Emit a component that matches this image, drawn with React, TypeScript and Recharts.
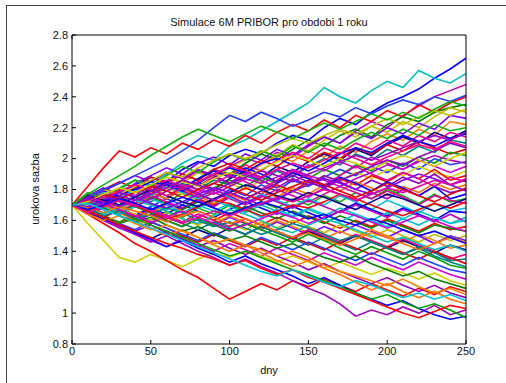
import { LineChart, Line, XAxis, YAxis } from 'recharts';

// days sampled every 10 days
const days = [0, 10, 20, 30, 40, 50, 60, 70, 80, 90, 100, 110, 120, 130, 140, 150, 160, 170, 180, 190, 200, 210, 220, 230, 240, 250];
const xTicks = [0, 50, 100, 150, 200, 250];
const yTicks = [0.8, 1, 1.2, 1.4, 1.6, 1.8, 2, 2.2, 2.4, 2.6, 2.8];

// simulated 6M PRIBOR paths (roughly)
const s01 = [1.70, 1.74, 1.79, 1.76, 1.83, 1.88, 1.85, 1.93, 1.98, 1.95, 2.02, 2.06, 2.03, 2.10, 2.15, 2.12, 2.20, 2.26, 2.22, 2.30, 2.36, 2.40, 2.45, 2.52, 2.58, 2.65];
const s02 = [1.70, 1.75, 1.72, 1.80, 1.86, 1.83, 1.90, 1.97, 2.02, 1.99, 2.08, 2.12, 2.18, 2.24, 2.30, 2.36, 2.46, 2.40, 2.36, 2.44, 2.50, 2.46, 2.57, 2.52, 2.49, 2.55];
const s03 = [1.70, 1.66, 1.73, 1.78, 1.75, 1.82, 1.79, 1.86, 1.92, 1.88, 1.95, 2.00, 1.97, 2.04, 2.01, 2.08, 2.14, 2.10, 2.18, 2.24, 2.20, 2.28, 2.34, 2.40, 2.44, 2.48];
const s04 = [1.70, 1.82, 1.94, 2.05, 2.01, 2.07, 2.03, 2.10, 2.06, 2.12, 2.08, 2.15, 2.10, 2.17, 2.22, 2.18, 2.25, 2.20, 2.28, 2.24, 2.31, 2.27, 2.35, 2.30, 2.36, 2.40];
const s05 = [1.70, 1.73, 1.69, 1.76, 1.81, 1.78, 1.84, 1.80, 1.87, 1.93, 1.90, 1.97, 2.03, 1.99, 2.06, 2.12, 2.08, 2.15, 2.19, 2.14, 2.22, 2.27, 2.24, 2.30, 2.33, 2.35];
const s06 = [1.70, 1.67, 1.72, 1.69, 1.76, 1.82, 1.88, 1.84, 1.91, 1.87, 1.94, 1.99, 2.05, 2.02, 2.09, 2.05, 2.12, 2.18, 2.14, 2.21, 2.17, 2.24, 2.20, 2.27, 2.33, 2.30];
const s07 = [1.70, 1.76, 1.81, 1.77, 1.84, 1.89, 1.94, 1.90, 1.97, 2.01, 1.96, 2.03, 1.99, 2.06, 2.02, 2.09, 2.14, 2.10, 2.17, 2.13, 2.20, 2.16, 2.23, 2.19, 2.28, 2.26];
const s08 = [1.70, 1.72, 1.77, 1.73, 1.79, 1.75, 1.81, 1.86, 1.82, 1.89, 1.94, 1.90, 1.96, 2.02, 1.98, 2.05, 2.01, 2.08, 2.04, 2.11, 2.16, 2.12, 2.19, 2.15, 2.24, 2.22];
const s09 = [1.70, 1.65, 1.70, 1.75, 1.71, 1.78, 1.74, 1.81, 1.85, 1.80, 1.87, 1.92, 1.88, 1.95, 1.91, 1.98, 2.03, 1.99, 2.06, 2.02, 2.09, 2.14, 2.10, 2.17, 2.13, 2.18];
const s10 = [1.70, 1.74, 1.70, 1.77, 1.82, 1.79, 1.85, 1.90, 1.86, 1.93, 1.89, 1.96, 1.92, 1.99, 2.04, 2.00, 2.07, 2.03, 2.10, 2.06, 2.12, 2.08, 2.15, 2.11, 2.17, 2.14];
const s11 = [1.70, 1.68, 1.73, 1.70, 1.76, 1.72, 1.79, 1.84, 1.80, 1.86, 1.83, 1.89, 1.85, 1.92, 1.88, 1.95, 2.00, 1.96, 2.03, 1.99, 2.06, 2.02, 2.08, 2.04, 2.12, 2.10];
const s12 = [1.70, 1.75, 1.80, 1.85, 1.81, 1.88, 1.84, 1.90, 1.86, 1.93, 1.97, 1.93, 1.99, 1.95, 2.02, 1.98, 2.04, 2.00, 2.07, 2.03, 2.09, 2.05, 2.11, 2.07, 2.03, 2.06];
const s13 = [1.70, 1.71, 1.67, 1.73, 1.69, 1.75, 1.71, 1.78, 1.74, 1.81, 1.86, 1.82, 1.88, 1.84, 1.91, 1.87, 1.93, 1.89, 1.96, 1.92, 1.99, 1.95, 2.01, 1.97, 2.04, 2.02];
const s14 = [1.70, 1.66, 1.62, 1.67, 1.63, 1.69, 1.74, 1.70, 1.77, 1.73, 1.80, 1.76, 1.83, 1.79, 1.86, 1.82, 1.88, 1.93, 1.89, 1.95, 1.91, 1.97, 1.93, 2.00, 1.96, 1.98];
const s15 = [1.70, 1.77, 1.73, 1.80, 1.76, 1.83, 1.79, 1.86, 1.82, 1.88, 1.84, 1.91, 1.87, 1.93, 1.89, 1.96, 1.92, 1.98, 1.94, 2.01, 1.97, 1.93, 1.99, 1.95, 1.91, 1.95];
const s16 = [1.70, 1.73, 1.78, 1.74, 1.70, 1.76, 1.81, 1.77, 1.73, 1.79, 1.84, 1.80, 1.86, 1.82, 1.78, 1.84, 1.89, 1.85, 1.91, 1.87, 1.93, 1.89, 1.95, 1.91, 1.88, 1.92];
const s17 = [1.70, 1.65, 1.69, 1.64, 1.70, 1.66, 1.72, 1.68, 1.74, 1.70, 1.76, 1.81, 1.77, 1.83, 1.79, 1.85, 1.81, 1.87, 1.83, 1.89, 1.85, 1.91, 1.87, 1.93, 1.86, 1.89];
const s18 = [1.70, 1.74, 1.79, 1.84, 1.89, 1.85, 1.91, 1.87, 1.93, 1.89, 1.84, 1.90, 1.86, 1.81, 1.87, 1.83, 1.89, 1.85, 1.80, 1.86, 1.82, 1.88, 1.84, 1.90, 1.83, 1.86];
const s19 = [1.70, 1.68, 1.72, 1.67, 1.73, 1.78, 1.74, 1.80, 1.76, 1.71, 1.77, 1.73, 1.79, 1.75, 1.81, 1.77, 1.83, 1.79, 1.85, 1.81, 1.76, 1.82, 1.78, 1.84, 1.80, 1.83];
const s20 = [1.70, 1.72, 1.68, 1.64, 1.69, 1.65, 1.71, 1.67, 1.73, 1.69, 1.75, 1.71, 1.77, 1.73, 1.79, 1.75, 1.81, 1.77, 1.72, 1.78, 1.74, 1.80, 1.76, 1.82, 1.78, 1.80];
const s21 = [1.70, 1.76, 1.72, 1.78, 1.83, 1.79, 1.85, 1.81, 1.87, 1.92, 1.88, 1.94, 1.90, 1.85, 1.91, 1.87, 1.82, 1.88, 1.84, 1.79, 1.85, 1.81, 1.76, 1.82, 1.74, 1.77];
const s22 = [1.70, 1.67, 1.63, 1.59, 1.64, 1.60, 1.66, 1.62, 1.68, 1.64, 1.70, 1.66, 1.72, 1.68, 1.74, 1.70, 1.76, 1.72, 1.78, 1.74, 1.80, 1.76, 1.71, 1.77, 1.72, 1.74];
const s23 = [1.70, 1.74, 1.70, 1.66, 1.71, 1.76, 1.72, 1.68, 1.73, 1.78, 1.74, 1.70, 1.75, 1.80, 1.76, 1.72, 1.77, 1.82, 1.78, 1.74, 1.79, 1.75, 1.70, 1.76, 1.73, 1.71];
const s24 = [1.70, 1.73, 1.78, 1.74, 1.80, 1.76, 1.82, 1.78, 1.74, 1.80, 1.75, 1.71, 1.77, 1.73, 1.69, 1.74, 1.70, 1.76, 1.72, 1.67, 1.73, 1.69, 1.65, 1.71, 1.66, 1.68];
const s25 = [1.70, 1.66, 1.71, 1.67, 1.63, 1.68, 1.64, 1.70, 1.66, 1.62, 1.67, 1.72, 1.68, 1.64, 1.69, 1.65, 1.61, 1.66, 1.71, 1.67, 1.63, 1.68, 1.64, 1.60, 1.66, 1.65];
const s26 = [1.70, 1.69, 1.65, 1.70, 1.75, 1.71, 1.67, 1.72, 1.68, 1.73, 1.69, 1.65, 1.70, 1.66, 1.62, 1.67, 1.63, 1.68, 1.64, 1.60, 1.65, 1.61, 1.66, 1.62, 1.58, 1.62];
const s27 = [1.70, 1.75, 1.71, 1.76, 1.81, 1.77, 1.83, 1.79, 1.75, 1.80, 1.76, 1.71, 1.76, 1.72, 1.68, 1.73, 1.69, 1.65, 1.70, 1.66, 1.62, 1.67, 1.63, 1.59, 1.64, 1.59];
const s28 = [1.70, 1.66, 1.62, 1.67, 1.63, 1.58, 1.63, 1.59, 1.64, 1.60, 1.65, 1.61, 1.57, 1.62, 1.58, 1.63, 1.59, 1.55, 1.60, 1.56, 1.61, 1.57, 1.53, 1.58, 1.54, 1.56];
const s29 = [1.70, 1.73, 1.69, 1.65, 1.70, 1.66, 1.62, 1.67, 1.72, 1.68, 1.64, 1.69, 1.65, 1.61, 1.66, 1.62, 1.58, 1.63, 1.59, 1.55, 1.60, 1.56, 1.52, 1.57, 1.55, 1.53];
const s30 = [1.70, 1.67, 1.72, 1.68, 1.64, 1.60, 1.65, 1.61, 1.57, 1.62, 1.58, 1.54, 1.59, 1.55, 1.60, 1.56, 1.52, 1.57, 1.53, 1.49, 1.54, 1.50, 1.46, 1.51, 1.47, 1.50];
const s31 = [1.70, 1.64, 1.68, 1.63, 1.59, 1.64, 1.60, 1.56, 1.61, 1.57, 1.62, 1.58, 1.54, 1.59, 1.55, 1.51, 1.56, 1.52, 1.57, 1.53, 1.49, 1.54, 1.50, 1.45, 1.50, 1.47];
const s32 = [1.70, 1.72, 1.68, 1.73, 1.69, 1.65, 1.70, 1.66, 1.62, 1.58, 1.63, 1.59, 1.55, 1.60, 1.56, 1.52, 1.48, 1.53, 1.49, 1.54, 1.50, 1.46, 1.51, 1.47, 1.42, 1.44];
const s33 = [1.70, 1.65, 1.61, 1.56, 1.52, 1.48, 1.53, 1.49, 1.54, 1.50, 1.55, 1.51, 1.56, 1.52, 1.48, 1.53, 1.49, 1.45, 1.50, 1.46, 1.42, 1.47, 1.43, 1.39, 1.44, 1.41];
const s34 = [1.70, 1.74, 1.70, 1.66, 1.62, 1.67, 1.63, 1.59, 1.64, 1.60, 1.56, 1.61, 1.57, 1.53, 1.49, 1.54, 1.50, 1.46, 1.51, 1.47, 1.43, 1.48, 1.44, 1.40, 1.35, 1.38];
const s35 = [1.70, 1.66, 1.70, 1.65, 1.61, 1.66, 1.62, 1.58, 1.54, 1.59, 1.55, 1.51, 1.56, 1.52, 1.48, 1.44, 1.49, 1.45, 1.41, 1.46, 1.42, 1.38, 1.43, 1.39, 1.34, 1.35];
const s36 = [1.70, 1.67, 1.63, 1.58, 1.63, 1.59, 1.55, 1.50, 1.46, 1.51, 1.47, 1.43, 1.48, 1.44, 1.49, 1.45, 1.41, 1.46, 1.42, 1.38, 1.43, 1.39, 1.35, 1.40, 1.36, 1.32];
const s37 = [1.70, 1.73, 1.68, 1.64, 1.69, 1.65, 1.60, 1.56, 1.61, 1.57, 1.53, 1.58, 1.54, 1.50, 1.46, 1.51, 1.47, 1.42, 1.38, 1.43, 1.39, 1.35, 1.40, 1.36, 1.31, 1.29];
const s38 = [1.70, 1.66, 1.62, 1.58, 1.54, 1.59, 1.55, 1.51, 1.47, 1.52, 1.48, 1.44, 1.49, 1.45, 1.41, 1.46, 1.42, 1.38, 1.34, 1.39, 1.35, 1.31, 1.36, 1.32, 1.28, 1.26];
const s39 = [1.70, 1.65, 1.60, 1.56, 1.51, 1.47, 1.43, 1.48, 1.44, 1.40, 1.45, 1.41, 1.37, 1.42, 1.38, 1.34, 1.39, 1.35, 1.31, 1.36, 1.32, 1.28, 1.33, 1.29, 1.25, 1.22];
const s40 = [1.70, 1.58, 1.47, 1.36, 1.33, 1.38, 1.34, 1.30, 1.35, 1.39, 1.36, 1.40, 1.37, 1.33, 1.37, 1.33, 1.29, 1.33, 1.29, 1.25, 1.29, 1.26, 1.22, 1.26, 1.21, 1.18];
const s41 = [1.70, 1.64, 1.58, 1.52, 1.45, 1.40, 1.34, 1.28, 1.23, 1.16, 1.09, 1.14, 1.19, 1.15, 1.21, 1.17, 1.22, 1.18, 1.14, 1.19, 1.15, 1.11, 1.16, 1.12, 1.17, 1.14];
const s42 = [1.70, 1.67, 1.62, 1.58, 1.53, 1.57, 1.52, 1.48, 1.43, 1.47, 1.42, 1.38, 1.42, 1.37, 1.33, 1.28, 1.32, 1.27, 1.23, 1.19, 1.23, 1.18, 1.14, 1.18, 1.13, 1.10];
const s43 = [1.70, 1.66, 1.70, 1.65, 1.60, 1.55, 1.50, 1.54, 1.49, 1.44, 1.40, 1.44, 1.39, 1.34, 1.30, 1.34, 1.29, 1.25, 1.20, 1.15, 1.19, 1.14, 1.10, 1.14, 1.09, 1.06];
const s44 = [1.70, 1.65, 1.60, 1.55, 1.51, 1.46, 1.50, 1.45, 1.40, 1.36, 1.31, 1.35, 1.30, 1.26, 1.21, 1.16, 1.12, 1.06, 0.98, 1.02, 0.99, 1.04, 1.00, 1.05, 0.99, 1.02];
const s45 = [1.70, 1.66, 1.61, 1.57, 1.52, 1.48, 1.43, 1.47, 1.42, 1.38, 1.33, 1.37, 1.32, 1.28, 1.24, 1.19, 1.23, 1.18, 1.13, 1.09, 1.05, 1.08, 1.03, 0.99, 0.96, 0.98];
const s46 = [1.70, 1.78, 1.74, 1.81, 1.86, 1.82, 1.89, 1.95, 1.91, 1.98, 2.03, 1.99, 2.05, 2.01, 2.08, 2.04, 2.10, 2.06, 2.12, 2.17, 2.13, 2.19, 2.15, 2.22, 2.18, 2.20];
const s47 = [1.70, 1.68, 1.73, 1.79, 1.75, 1.81, 1.86, 1.82, 1.78, 1.84, 1.89, 1.85, 1.80, 1.86, 1.92, 1.88, 1.83, 1.89, 1.95, 1.90, 1.86, 1.91, 1.87, 1.82, 1.88, 1.85];
const s48 = [1.70, 1.73, 1.69, 1.64, 1.69, 1.74, 1.70, 1.65, 1.70, 1.66, 1.71, 1.67, 1.62, 1.67, 1.63, 1.68, 1.64, 1.59, 1.64, 1.60, 1.56, 1.61, 1.57, 1.62, 1.58, 1.60];
const s49 = [1.70, 1.74, 1.71, 1.77, 1.80, 1.85, 1.83, 1.79, 1.84, 1.90, 1.94, 1.91, 1.97, 2.00, 1.96, 1.92, 1.97, 2.03, 2.07, 2.04, 2.10, 2.15, 2.11, 2.08, 2.13, 2.16];
const s50 = [1.70, 1.67, 1.64, 1.68, 1.73, 1.70, 1.66, 1.61, 1.58, 1.63, 1.67, 1.64, 1.60, 1.55, 1.52, 1.57, 1.61, 1.58, 1.54, 1.50, 1.46, 1.49, 1.45, 1.41, 1.44, 1.40];
const s51 = [1.70, 1.73, 1.76, 1.72, 1.69, 1.74, 1.79, 1.83, 1.80, 1.77, 1.82, 1.87, 1.84, 1.88, 1.93, 1.89, 1.86, 1.82, 1.87, 1.91, 1.96, 1.93, 1.98, 2.02, 1.99, 1.97];
const s52 = [1.70, 1.66, 1.69, 1.73, 1.70, 1.65, 1.61, 1.64, 1.69, 1.73, 1.71, 1.67, 1.63, 1.66, 1.70, 1.68, 1.72, 1.77, 1.74, 1.70, 1.66, 1.63, 1.67, 1.71, 1.68, 1.72];
const s53 = [1.70, 1.72, 1.68, 1.63, 1.59, 1.62, 1.57, 1.53, 1.56, 1.51, 1.47, 1.50, 1.46, 1.42, 1.45, 1.40, 1.36, 1.33, 1.37, 1.32, 1.28, 1.24, 1.27, 1.22, 1.19, 1.16];
const s54 = [1.70, 1.75, 1.80, 1.77, 1.82, 1.86, 1.91, 1.88, 1.94, 1.99, 2.03, 2.00, 2.04, 2.09, 2.13, 2.10, 2.15, 2.19, 2.16, 2.21, 2.26, 2.22, 2.27, 2.31, 2.28, 2.32];
const s55 = [1.70, 1.69, 1.73, 1.78, 1.75, 1.71, 1.68, 1.72, 1.77, 1.81, 1.78, 1.74, 1.70, 1.74, 1.79, 1.83, 1.87, 1.84, 1.80, 1.77, 1.81, 1.86, 1.90, 1.87, 1.83, 1.79];
const s56 = [1.70, 1.64, 1.60, 1.63, 1.58, 1.54, 1.57, 1.53, 1.49, 1.45, 1.48, 1.44, 1.41, 1.37, 1.40, 1.36, 1.31, 1.27, 1.24, 1.21, 1.18, 1.22, 1.17, 1.13, 1.16, 1.12];
const s57 = [1.70, 1.76, 1.73, 1.70, 1.75, 1.80, 1.76, 1.72, 1.69, 1.74, 1.78, 1.83, 1.80, 1.76, 1.73, 1.78, 1.75, 1.71, 1.67, 1.72, 1.77, 1.74, 1.70, 1.66, 1.70, 1.74];
const s58 = [1.70, 1.71, 1.75, 1.79, 1.83, 1.80, 1.76, 1.81, 1.85, 1.90, 1.95, 1.92, 1.88, 1.93, 1.97, 1.94, 1.99, 2.04, 2.00, 1.96, 2.01, 2.05, 2.09, 2.06, 2.11, 2.08];
const s59 = [1.70, 1.68, 1.63, 1.66, 1.61, 1.64, 1.68, 1.65, 1.60, 1.56, 1.59, 1.55, 1.51, 1.54, 1.58, 1.55, 1.51, 1.47, 1.50, 1.46, 1.42, 1.38, 1.42, 1.37, 1.33, 1.30];
const s60 = [1.70, 1.73, 1.77, 1.74, 1.78, 1.82, 1.79, 1.75, 1.80, 1.84, 1.81, 1.77, 1.73, 1.78, 1.82, 1.86, 1.83, 1.79, 1.75, 1.79, 1.84, 1.80, 1.76, 1.72, 1.77, 1.81];
const s61 = [1.70, 1.66, 1.62, 1.58, 1.61, 1.57, 1.53, 1.49, 1.45, 1.41, 1.37, 1.40, 1.36, 1.32, 1.28, 1.25, 1.21, 1.17, 1.13, 1.09, 1.12, 1.07, 1.03, 1.06, 1.02, 0.97];
const s62 = [1.70, 1.75, 1.80, 1.84, 1.89, 1.94, 1.99, 2.05, 2.12, 2.20, 2.28, 2.24, 2.30, 2.26, 2.21, 2.25, 2.30, 2.27, 2.33, 2.29, 2.34, 2.38, 2.35, 2.40, 2.37, 2.41];
const s63 = [1.70, 1.67, 1.71, 1.67, 1.63, 1.59, 1.62, 1.66, 1.62, 1.58, 1.54, 1.57, 1.61, 1.65, 1.62, 1.58, 1.62, 1.66, 1.63, 1.59, 1.55, 1.59, 1.63, 1.60, 1.56, 1.53];
const s64 = [1.70, 1.72, 1.77, 1.81, 1.78, 1.83, 1.88, 1.85, 1.82, 1.87, 1.91, 1.88, 1.93, 1.98, 2.02, 1.99, 1.95, 2.00, 1.97, 1.93, 1.98, 2.02, 1.99, 1.95, 2.00, 2.04];
const s65 = [1.70, 1.66, 1.62, 1.57, 1.53, 1.49, 1.45, 1.42, 1.38, 1.35, 1.31, 1.34, 1.29, 1.25, 1.28, 1.23, 1.20, 1.16, 1.12, 1.08, 1.04, 1.00, 0.97, 1.01, 1.05, 1.03];
const s66 = [1.70, 1.74, 1.70, 1.76, 1.73, 1.79, 1.84, 1.81, 1.77, 1.73, 1.78, 1.74, 1.79, 1.84, 1.89, 1.85, 1.81, 1.86, 1.90, 1.95, 1.99, 1.96, 2.01, 2.05, 2.10, 2.07];
const s67 = [1.70, 1.68, 1.65, 1.69, 1.66, 1.63, 1.59, 1.63, 1.66, 1.62, 1.58, 1.61, 1.57, 1.53, 1.49, 1.52, 1.48, 1.44, 1.48, 1.52, 1.49, 1.45, 1.41, 1.45, 1.49, 1.46];
const s68 = [1.70, 1.75, 1.72, 1.69, 1.73, 1.77, 1.81, 1.86, 1.83, 1.79, 1.84, 1.88, 1.92, 1.89, 1.85, 1.90, 1.94, 1.98, 2.02, 1.99, 2.03, 2.07, 2.11, 2.15, 2.12, 2.17];
const s69 = [1.70, 1.67, 1.70, 1.74, 1.71, 1.67, 1.71, 1.75, 1.72, 1.68, 1.64, 1.68, 1.72, 1.69, 1.65, 1.61, 1.64, 1.60, 1.57, 1.61, 1.58, 1.54, 1.50, 1.53, 1.49, 1.45];
const s70 = [1.70, 1.77, 1.83, 1.89, 1.95, 2.02, 2.08, 2.14, 2.19, 2.15, 2.11, 2.16, 2.21, 2.17, 2.13, 2.18, 2.23, 2.19, 2.24, 2.29, 2.25, 2.30, 2.26, 2.32, 2.37, 2.34];
const s71 = [1.70, 1.65, 1.69, 1.73, 1.70, 1.66, 1.62, 1.58, 1.62, 1.66, 1.63, 1.67, 1.71, 1.75, 1.72, 1.76, 1.80, 1.77, 1.73, 1.77, 1.81, 1.78, 1.82, 1.86, 1.83, 1.87];
const s72 = [1.70, 1.71, 1.67, 1.63, 1.59, 1.55, 1.51, 1.47, 1.43, 1.39, 1.35, 1.31, 1.27, 1.24, 1.28, 1.24, 1.20, 1.17, 1.21, 1.18, 1.14, 1.10, 1.13, 1.09, 1.12, 1.08];

const paths = [s01, s02, s03, s04, s05, s06, s07, s08, s09, s10, s11, s12, s13, s14, s15, s16,
  s17, s18, s19, s20, s21, s22, s23, s24, s25, s26, s27, s28, s29, s30, s31, s32,
  s33, s34, s35, s36, s37, s38, s39, s40, s41, s42, s43, s44, s45, s46, s47, s48,
  s49, s50, s51, s52, s53, s54, s55, s56, s57, s58, s59, s60, s61, s62, s63, s64,
  s65, s66, s67, s68, s69, s70, s71, s72];

const colors = ['#0000ff', '#00bfbf', '#bf00bf', '#ff0000', '#008000', '#bfbf00', '#8000ff', '#ff8000',
  '#000090', '#ff0080', '#008080', '#e00000', '#00a000', '#2040ff', '#d000d0', '#d0d000',
  '#ff0000', '#9000c0', '#ff7000', '#a000c0', '#0000ff', '#10b010', '#e000a0', '#00c0e0'];

const data = days.map((d, i) => {
  const row: Record<string, number> = { day: d };
  paths.forEach((p, k) => { row['s' + k] = p[i]; });
  return row;
});

const font = '"Liberation Sans", Arial, sans-serif';
const fmt = (v: number) => String(Math.round(v * 10) / 10);

// MATLAB style: ticks point into the plot box
const BottomTick = (props: any) => {
  const { x, y, payload } = props;
  return (
    <g>
      <line x1={x} x2={x} y1={y - 3} y2={y - 7} stroke="#000" />
      <text x={x} y={y} dy="0.71em" textAnchor="middle" fontSize={11} fontFamily={font} fill="#111">{fmt(payload.value)}</text>
    </g>
  );
};
const TopTick = (props: any) => {
  const { x, y } = props;
  return <line x1={x} x2={x} y1={y} y2={y + 4} stroke="#000" />;
};
const LeftTick = (props: any) => {
  const { x, y, payload } = props;
  return (
    <g>
      <line x1={x + 4} x2={x + 8} y1={y} y2={y} stroke="#000" />
      <text x={x} y={y} dy="0.35em" textAnchor="end" fontSize={11} fontFamily={font} fill="#111">{fmt(payload.value)}</text>
    </g>
  );
};
const RightTick = (props: any) => {
  const { x, y } = props;
  return <line x1={x} x2={x - 4} y1={y} y2={y} stroke="#000" />;
};

export default function App() {
  return (
    <div style={{ position: 'absolute', left: 0, top: 0, width: 506, height: 383, background: '#fff', overflow: 'hidden', fontFamily: font }}>
      <div style={{ position: 'absolute', left: 6, top: 5, width: 520, height: 400, borderLeft: '1px solid #444', borderTop: '1px solid #444' }} />
      <div style={{ position: 'absolute', left: 72, top: 15, width: 394, textAlign: 'center', fontSize: 11, lineHeight: '14px', color: '#111' }}>
        Simulace 6M PRIBOR pro obdobi 1 roku
      </div>
      <LineChart width={506} height={383} data={data} margin={{ top: 34, right: 39, bottom: 38, left: 71 }} style={{ position: 'absolute', left: 0, top: 0 }}>
        <XAxis dataKey="day" type="number" domain={[0, 250]} ticks={xTicks} height={1} tickSize={0} tickMargin={3} tickLine={false}
          axisLine={{ stroke: '#000' }} tick={<BottomTick />} interval={0} allowDataOverflow />
        <XAxis xAxisId="top" orientation="top" type="number" domain={[0, 250]} ticks={xTicks} height={1} tickSize={0} tickMargin={0} tickLine={false}
          axisLine={{ stroke: '#000' }} tick={<TopTick />} interval={0} />
        <YAxis type="number" domain={[0.8, 2.8]} ticks={yTicks} width={1} tickSize={0} tickMargin={4} tickLine={false}
          axisLine={{ stroke: '#000' }} tick={<LeftTick />} interval={0} allowDataOverflow />
        <YAxis yAxisId="right" orientation="right" type="number" domain={[0.8, 2.8]} ticks={yTicks} width={1} tickSize={0} tickMargin={0} tickLine={false}
          axisLine={{ stroke: '#000' }} tick={<RightTick />} interval={0} />
        {paths.map((_, k) => (
          <Line key={k} dataKey={'s' + k} type="linear" stroke={colors[k % colors.length]} strokeWidth={1.6} dot={false} activeDot={false} isAnimationActive={false} />
        ))}
      </LineChart>
      <div style={{ position: 'absolute', left: 72, top: 363, width: 394, textAlign: 'center', fontSize: 11, lineHeight: '14px', color: '#111' }}>dny</div>
      <div style={{ position: 'absolute', left: 35 - 60, top: 189 - 7, width: 120, textAlign: 'center', fontSize: 11, lineHeight: '14px', color: '#111', transform: 'rotate(-90deg)' }}>
        urokova sazba
      </div>
    </div>
  );
}
